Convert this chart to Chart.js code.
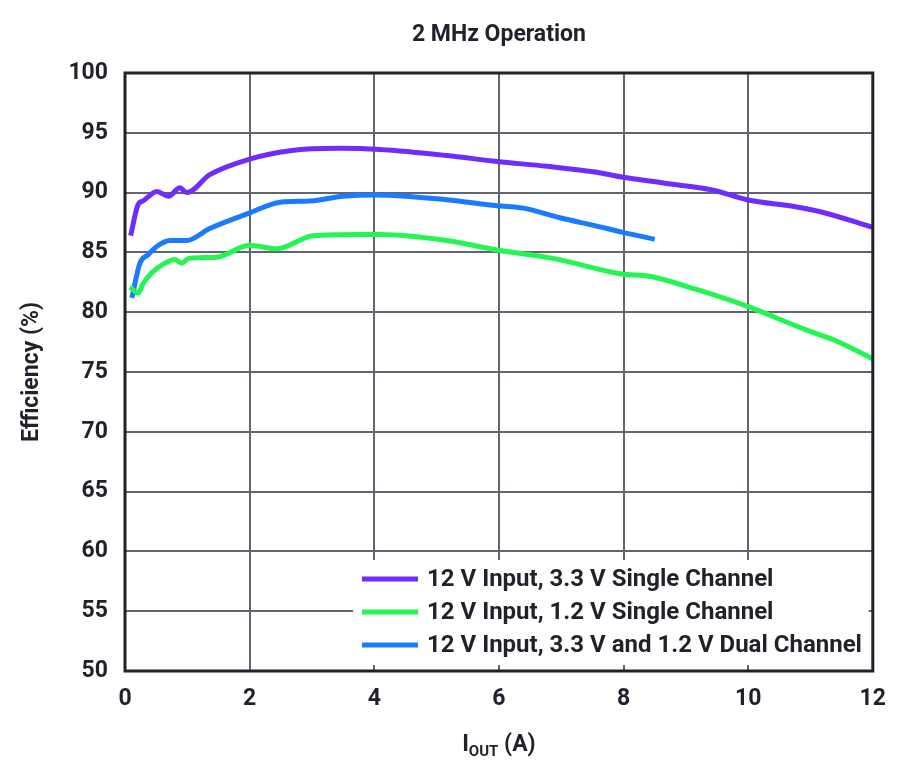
<!DOCTYPE html>
<html lang="en">
    <head>
        <meta charset="UTF-8" />
        <title>2 MHz Operation</title>
        <script src="https://cdn.jsdelivr.net/npm/chart.js@4.4.1/dist/chart.umd.min.js"></script>
        <style>
            html, body { margin: 0; padding: 0; background: #ffffff; }
            #wrapper { width: 900px; height: 782px; }
        </style>
    </head>
    <body>
        <div id="wrapper">
            <canvas id="canvas" width="900" height="782"></canvas>
        </div>
        <script>
            // values
            let chartTitle = '2 MHz Operation';
            let yTitle = 'Efficiency (%)';
            let labels = ['12 V Input, 3.3 V Single Channel', '12 V Input, 1.2 V Single Channel', '12 V Input, 3.3 V and 1.2 V Dual Channel'];

            let single33X = [0.09, 0.21, 0.29, 0.51, 0.70, 0.88, 0.99, 1.36, 2.0, 2.65, 3.45, 4.09, 5.16, 5.97, 6.77, 7.57, 7.97, 8.64, 9.44, 9.98, 10.78, 11.16, 12];
            let single33Y = [86.4, 89.0, 89.3, 90.1, 89.7, 90.4, 90.0, 91.5, 92.8, 93.5, 93.7, 93.6, 93.1, 92.6, 92.2, 91.7, 91.3, 90.8, 90.2, 89.4, 88.8, 88.4, 87.1];

            let single12X = [0.08, 0.21, 0.29, 0.43, 0.61, 0.80, 0.91, 1.02, 1.47, 2.0, 2.43, 3.02, 3.77, 4.09, 5.16, 5.97, 6.87, 7.97, 8.42, 9.17, 9.98, 10.94, 11.37, 12];
            let single12Y = [82.1, 81.6, 82.4, 83.3, 84.0, 84.4, 84.1, 84.5, 84.6, 85.6, 85.3, 86.4, 86.5, 86.5, 86.0, 85.2, 84.5, 83.2, 83.0, 81.9, 80.5, 78.5, 77.7, 76.1];

            let dualX = [0.11, 0.24, 0.37, 0.51, 0.72, 0.99, 1.36, 2.0, 2.49, 2.97, 3.5, 4.04, 5.16, 5.97, 6.39, 6.98, 7.57, 7.97, 8.5];
            let dualY = [81.2, 84.1, 84.8, 85.5, 86.0, 86.0, 87.0, 88.3, 89.2, 89.3, 89.7, 89.8, 89.4, 88.9, 88.7, 87.9, 87.2, 86.7, 86.1];

            let colors = ['#702bff', '#25f552', '#1a7bff'];
            let textColor = '#1f222a';
            let gridColor = '#62656d';
            let fontFamily = "Roboto, 'Liberation Sans', sans-serif";

            function points(xs, ys) {
                let out = [];
                for (let i = 0; i < xs.length; i++) {
                    out.push({ x: xs[i], y: ys[i] });
                }
                return out;
            }

            // title, frame, legend box and subscripted x title
            let decor = {
                id: 'decor',
                afterDraw(chart) {
                    let ctx = chart.ctx;
                    let a = chart.chartArea;
                    let mid = (a.left + a.right) / 2;
                    ctx.save();

                    // frame
                    ctx.strokeStyle = textColor;
                    ctx.lineWidth = 3;
                    ctx.strokeRect(a.left, a.top, a.right - a.left, a.bottom - a.top);

                    // title
                    ctx.fillStyle = textColor;
                    ctx.textAlign = 'center';
                    ctx.textBaseline = 'middle';
                    ctx.font = 'bold 23px ' + fontFamily;
                    ctx.fillText(chartTitle, mid, 35);

                    // x title: I with OUT subscript
                    ctx.textAlign = 'left';
                    ctx.textBaseline = 'alphabetic';
                    let big = 'bold 23px ' + fontFamily;
                    let small = 'bold 15px ' + fontFamily;
                    ctx.font = big;
                    let w1 = ctx.measureText('I').width;
                    let w3 = ctx.measureText(' (A)').width;
                    ctx.font = small;
                    let w2 = ctx.measureText('OUT').width;
                    let x0 = mid - (w1 + w2 + w3) / 2;
                    let base = 751;
                    ctx.font = big;
                    ctx.fillText('I', x0, base);
                    ctx.font = small;
                    ctx.fillText('OUT', x0 + w1, base + 5);
                    ctx.font = big;
                    ctx.fillText(' (A)', x0 + w1 + w2, base);

                    // legend box inside plot
                    let boxL = a.left + 228, boxR = a.right - 4;
                    let boxT = a.bottom - 111, boxB = a.bottom - 6;
                    ctx.fillStyle = '#ffffff';
                    ctx.fillRect(boxL, boxT, boxR - boxL, boxB - boxT);
                    ctx.font = 'bold 24px ' + fontFamily;
                    ctx.textBaseline = 'middle';
                    chart.data.datasets.forEach(function (ds, i) {
                        let y = a.bottom - 92 + i * 33;
                        ctx.strokeStyle = ds.borderColor;
                        ctx.lineWidth = 5;
                        ctx.beginPath();
                        ctx.moveTo(a.left + 237, y);
                        ctx.lineTo(a.left + 293, y);
                        ctx.stroke();
                        ctx.fillStyle = textColor;
                        ctx.fillText(ds.label, a.left + 302, y + 1);
                    });
                    ctx.restore();
                }
            };

            let options = {
                type: 'line',
                data: {
                    datasets: [{
                        label: labels[0],
                        data: points(single33X, single33Y),
                        borderColor: colors[0]
                    }, {
                        label: labels[1],
                        data: points(single12X, single12Y),
                        borderColor: colors[1]
                    }, {
                        label: labels[2],
                        data: points(dualX, dualY),
                        borderColor: colors[2]
                    }]
                },
                options: {
                    responsive: false,
                    animation: false,
                    elements: {
                        line: { borderWidth: 5, tension: 0.4, cubicInterpolationMode: 'monotone' },
                        point: { radius: 0 }
                    },
                    layout: { padding: { top: 73, right: 20, left: 0, bottom: 0 } },
                    plugins: {
                        legend: { display: false },
                        title: { display: false },
                        tooltip: { enabled: false }
                    },
                    scales: {
                        x: {
                            type: 'linear',
                            min: 0,
                            max: 12,
                            afterFit: function (s) { s.height = 111; },
                            border: { display: false },
                            grid: { color: gridColor, lineWidth: 2, drawTicks: false },
                            ticks: {
                                stepSize: 2,
                                padding: 14,
                                color: textColor,
                                font: { family: fontFamily, size: 23, weight: 'bold' }
                            }
                        },
                        y: {
                            min: 50,
                            max: 100,
                            afterFit: function (s) { s.width = 125; },
                            border: { display: false },
                            grid: { color: gridColor, lineWidth: 2, drawTicks: false },
                            ticks: {
                                stepSize: 5,
                                padding: 17,
                                color: textColor,
                                font: { family: fontFamily, size: 23, weight: 'bold' }
                            },
                            title: {
                                display: true,
                                text: yTitle,
                                color: textColor,
                                padding: { top: 18, bottom: 0 },
                                font: { family: fontFamily, size: 23, weight: 'bold' }
                            }
                        }
                    }
                },
                plugins: [decor]
            };

            let chart1 = new Chart(document.getElementById('canvas'), options);
        </script>
    </body>
</html>
